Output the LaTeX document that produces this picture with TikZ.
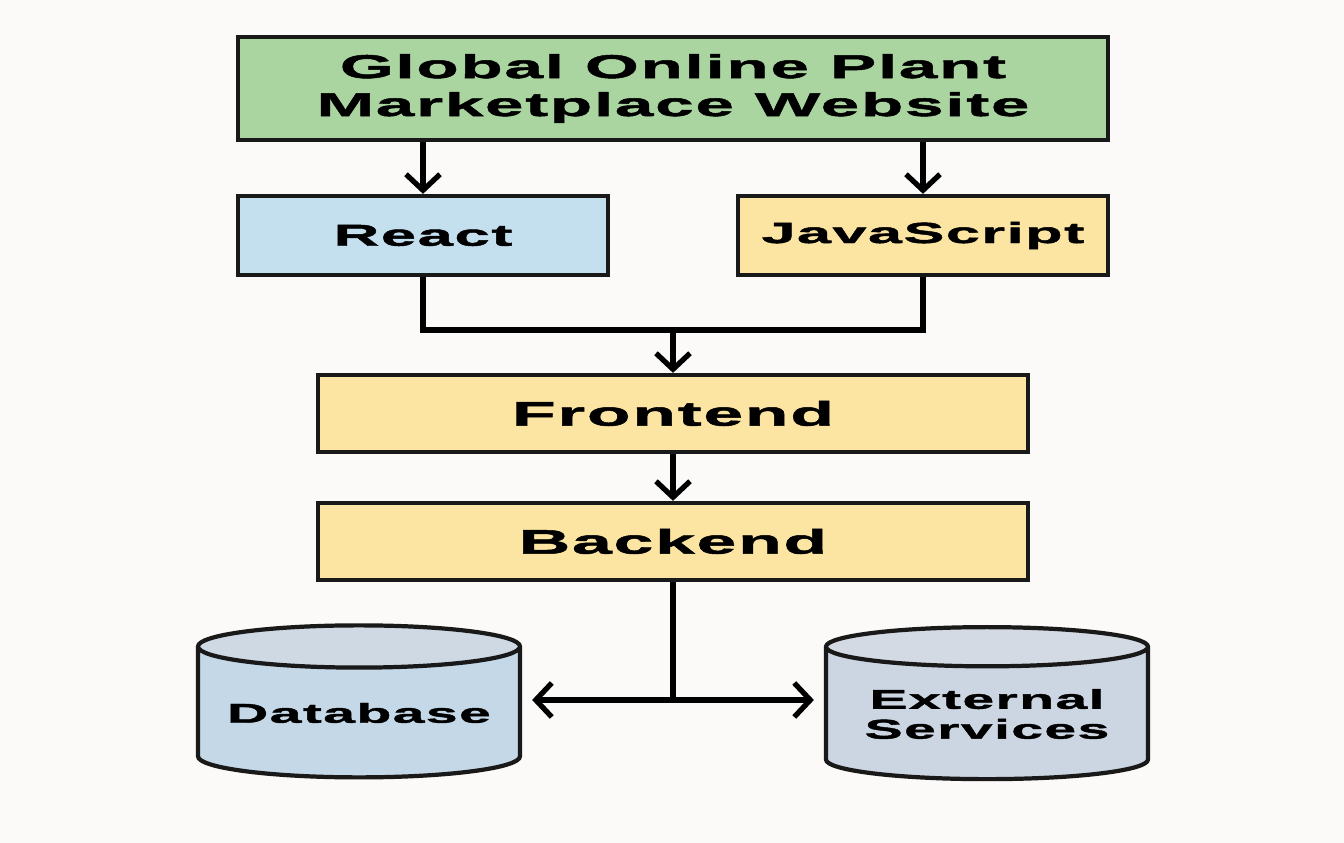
\documentclass[tikz,border=0pt]{standalone}
\usepackage{fontspec}
\newfontfamily\boxfont{Liberation Sans}[FakeStretch=2.1,LetterSpace=5,FakeBold=1.5]
\usetikzlibrary{shapes.geometric,arrows.meta}

\definecolor{paper}{RGB}{251,250,248}
\definecolor{sitegreen}{RGB}{170,213,160}
\definecolor{reactblue}{RGB}{196,223,238}
\definecolor{jsyellow}{RGB}{252,229,162}
\definecolor{dbblue}{RGB}{196,216,232}
\definecolor{dbtop}{RGB}{206,217,228}
\definecolor{extgrey}{RGB}{204,213,226}
\definecolor{exttop}{RGB}{212,218,228}

\tikzset{
every picture/.style={
line width=1.2pt
},
box/.style={draw=black!90, rectangle, align=center, inner sep=0pt},
link/.style={line width=1.5pt, -{Straight Barb[length=1.6mm,width=3.4mm]}},
drum/.style={cylinder, shape border rotate=90, aspect=0.16, draw=black!90,
  cylinder uses custom fill, minimum width=3.22cm, minimum height=1.52cm,
  align=center, inner sep=0pt}
}

\newcommand\boxtext[2]{\boxfont\bfseries\fontsize{#1}{#2}\selectfont}

\begin{document}
\begin{tikzpicture}
\fill[paper] (0,0) rectangle (13.44,8.43);
\useasboundingbox (0,0) rectangle (13.44,8.43);

% top, the site itself
\node[box, fill=sitegreen, minimum width=8.7cm, minimum height=1.03cm,
  font=\boxtext{9.4}{10.8}] (site) at (6.73,7.545) {Global Online Plant\\Marketplace Website};

\node[box, fill=reactblue, minimum width=3.7cm, minimum height=0.79cm,
  font=\boxtext{8.6}{10}] (react) at (4.23,6.075) {React};
\node[box, fill=jsyellow, minimum width=3.7cm, minimum height=0.79cm,
  font=\boxtext{8.3}{10}] (js) at (9.23,6.075) {JavaScript};

\foreach \n in {react, js}{
  \draw[link] (site.south -| \n) -- (\n);
}

% the two layers
\node[box, fill=jsyellow, minimum width=7.1cm, minimum height=0.77cm,
  font=\boxtext{9.7}{11}] (front) at (6.73,4.295) {Frontend};
\node[box, fill=jsyellow, minimum width=7.1cm, minimum height=0.77cm,
  font=\boxtext{9.7}{11}] (back) at (6.73,3.015) {Backend};

\coordinate (join) at (6.73,5.13);
\draw[line width=1.5pt] (react) |- (join) -| (js);
\draw[link] (join) -- (front);
\draw[link] (front) -- (back);

% storage and services
\node[drum, cylinder body fill=dbblue, cylinder end fill=dbtop,
  font=\boxtext{7.75}{8.5}] (db) at (3.59,1.30) {Database};
\node[drum, cylinder body fill=extgrey, cylinder end fill=exttop,
  font=\boxtext{7.75}{8.5}] (ext) at (9.87,1.29) {External\\Services};

\coordinate (split) at (6.73,1.43);
\draw[line width=1.5pt] (back) -- (split);
\foreach \n/\side in {db/east, ext/west}{
  \draw[link, shorten >=0.1cm] (split) -- (split -| \n.\side);
}
\end{tikzpicture}
\end{document}
